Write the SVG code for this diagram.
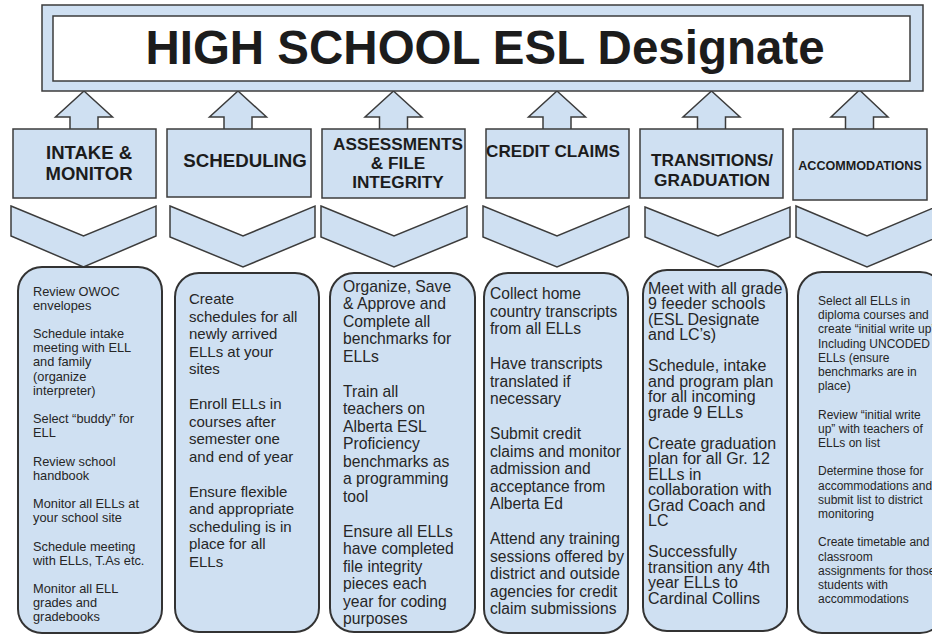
<svg xmlns="http://www.w3.org/2000/svg" width="932" height="634" viewBox="0 0 932 634">
<style>
.blue{fill:#cfe0f2;stroke:#3c3c3c;stroke-width:1.5;stroke-linejoin:miter}
.card{fill:#cfe0f2;stroke:#333;stroke-width:2}
.white{fill:#fff;stroke:#3c3c3c;stroke-width:1.5}
.head{font-family:"Liberation Sans",Arial,sans-serif;font-weight:bold;fill:#1c1c1c;text-anchor:middle}
.body{font-family:"Liberation Sans",Arial,sans-serif;fill:#262626}
</style>
<rect width="932" height="634" fill="#fff"/>
<g id="connectors">
  <polygon class="blue" points="84,91 112.5,117 98,117 98,130 70,130 70,117 55.5,117"/>
  <polygon class="blue" points="238,91 266.5,117 252,117 252,130 224,130 224,117 209.5,117"/>
  <polygon class="blue" points="393.5,91 422,117 407.5,117 407.5,130 379.5,130 379.5,117 365,117"/>
  <polygon class="blue" points="557,91 585.5,117 571,117 571,130 543,130 543,117 528.5,117"/>
  <polygon class="blue" points="711.5,91 740,117 725.5,117 725.5,130 697.5,130 697.5,117 683,117"/>
  <polygon class="blue" points="859.5,90 888,117 873.5,117 873.5,130 845.5,130 845.5,117 831,117"/>
  <polygon class="blue" points="11,206 83.5,236 156,206 156,236 83.5,267 11,236"/>
  <polygon class="blue" points="170,206 243,236 315,206 315,237 243,267 170,237"/>
  <polygon class="blue" points="321,206 394,236 467,206 467,237 394,267 321,237"/>
  <polygon class="blue" points="483,206 557,236 629,206 629,237 557,267 483,237"/>
  <polygon class="blue" points="645,207 718,236 790,207 790,237 718,267 645,237"/>
  <polygon class="blue" points="796,206 867,236 938,206 938,237 867,267 796,237"/>
</g>
<g id="title">
  <rect class="blue" x="42" y="5" width="881" height="86"/>
  <rect class="white" x="53" y="16" width="857" height="65"/>
  <text class="head" x="485" y="64" font-size="47.5" fill="#000">HIGH SCHOOL ESL Designate</text>
</g>
<g id="h-intake">
  <rect class="blue" x="13" y="129" width="143" height="69"/>
  <text class="head" font-size="18.5"><tspan x="89" y="159">INTAKE &amp;</tspan><tspan x="89" y="180">MONITOR</tspan></text>
</g>
<g id="h-scheduling">
  <rect class="blue" x="167" y="129" width="144" height="68"/>
  <text class="head" font-size="18.7" x="245" y="167">SCHEDULING</text>
</g>
<g id="h-assessments">
  <rect class="blue" x="322" y="129" width="143" height="69"/>
  <text class="head" font-size="17.2"><tspan x="398" y="150">ASSESSMENTS</tspan><tspan x="398" y="169">&amp; FILE</tspan><tspan x="398" y="188">INTEGRITY</tspan></text>
</g>
<g id="h-credit">
  <rect class="blue" x="486" y="129" width="143" height="69"/>
  <text class="head" font-size="17.1" x="553" y="157">CREDIT CLAIMS</text>
</g>
<g id="h-transitions">
  <rect class="blue" x="640" y="129" width="143" height="69"/>
  <text class="head" font-size="17.3"><tspan x="712" y="166">TRANSITIONS/</tspan><tspan x="712" y="185.5">GRADUATION</tspan></text>
</g>
<g id="h-accommodations">
  <rect class="blue" x="793" y="129" width="134" height="71"/>
  <text class="head" font-size="12.6" x="860" y="170">ACCOMMODATIONS</text>
</g>
<g id="c-intake">
  <rect class="card" x="18" y="267" width="144" height="366" rx="24"/>
  <text class="body" font-size="12.8">
    <tspan x="33" y="296">Review OWOC</tspan><tspan x="33" y="310">envelopes</tspan>
    <tspan x="33" y="338">Schedule intake</tspan><tspan x="33" y="352">meeting with ELL</tspan><tspan x="33" y="366">and family</tspan><tspan x="33" y="381">(organize</tspan><tspan x="33" y="395">interpreter)</tspan>
    <tspan x="33" y="423">Select “buddy” for</tspan><tspan x="33" y="437">ELL</tspan>
    <tspan x="33" y="466">Review school</tspan><tspan x="33" y="480">handbook</tspan>
    <tspan x="33" y="508">Monitor all ELLs at</tspan><tspan x="33" y="522">your school site</tspan>
    <tspan x="33" y="551">Schedule meeting</tspan><tspan x="33" y="565">with ELLs, T.As etc.</tspan>
    <tspan x="33" y="593">Monitor all ELL</tspan><tspan x="33" y="607">grades and</tspan><tspan x="33" y="621">gradebooks</tspan>
  </text>
</g>
<g id="c-scheduling">
  <rect class="card" x="175" y="273" width="144" height="359" rx="24"/>
  <text class="body" font-size="15">
    <tspan x="189" y="304">Create</tspan><tspan x="189" y="321.5">schedules for all</tspan><tspan x="189" y="339">newly arrived</tspan><tspan x="189" y="356.5">ELLs at your</tspan><tspan x="189" y="374">sites</tspan>
    <tspan x="189" y="409">Enroll ELLs in</tspan><tspan x="189" y="426.5">courses after</tspan><tspan x="189" y="444">semester one</tspan><tspan x="189" y="461.5">and end of year</tspan>
    <tspan x="189" y="496.5">Ensure flexible</tspan><tspan x="189" y="514">and appropriate</tspan><tspan x="189" y="531.5">scheduling is in</tspan><tspan x="189" y="549">place for all</tspan><tspan x="189" y="566.5">ELLs</tspan>
  </text>
</g>
<g id="c-assessments">
  <rect class="card" x="330" y="273" width="145" height="359" rx="24"/>
  <text class="body" font-size="15.7">
    <tspan x="343" y="291.5">Organize, Save</tspan><tspan x="343" y="308.5">&amp; Approve and</tspan><tspan x="343" y="326.5">Complete all</tspan><tspan x="343" y="343.5">benchmarks for</tspan><tspan x="343" y="361.5">ELLs</tspan>
    <tspan x="343" y="396.5">Train all</tspan><tspan x="343" y="413.5">teachers on</tspan><tspan x="343" y="431.5">Alberta ESL</tspan><tspan x="343" y="448.5">Proficiency</tspan><tspan x="343" y="466.5">benchmarks as</tspan><tspan x="343" y="483.5">a programming</tspan><tspan x="343" y="501.5">tool</tspan>
    <tspan x="343" y="536.5">Ensure all ELLs</tspan><tspan x="343" y="553.5">have completed</tspan><tspan x="343" y="571.5">file integrity</tspan><tspan x="343" y="588.5">pieces each</tspan><tspan x="343" y="606.5">year for coding</tspan><tspan x="343" y="623.5">purposes</tspan>
  </text>
</g>
<g id="c-credit">
  <rect class="card" x="484" y="273" width="144" height="360" rx="24"/>
  <text class="body" font-size="15.6">
    <tspan x="490" y="298.5">Collect home</tspan><tspan x="490" y="316.5">country transcripts</tspan><tspan x="490" y="333.5">from all ELLs</tspan>
    <tspan x="490" y="368.5">Have transcripts</tspan><tspan x="490" y="386.5">translated if</tspan><tspan x="490" y="403.5">necessary</tspan>
    <tspan x="490" y="438.5">Submit credit</tspan><tspan x="490" y="456.5">claims and monitor</tspan><tspan x="490" y="473.5">admission and</tspan><tspan x="490" y="491.5">acceptance from</tspan><tspan x="490" y="508.5">Alberta Ed</tspan>
    <tspan x="490" y="543.5">Attend any training</tspan><tspan x="490" y="561.5">sessions offered by</tspan><tspan x="490" y="578.5">district and outside</tspan><tspan x="490" y="596.5">agencies for credit</tspan><tspan x="490" y="613.5">claim submissions</tspan>
  </text>
</g>
<g id="c-transitions">
  <rect class="card" x="643" y="270" width="144" height="361" rx="24"/>
  <text class="body" font-size="16">
    <tspan x="648" y="293.5">Meet with all grade</tspan><tspan x="648" y="309">9 feeder schools</tspan><tspan x="648" y="324.5">(ESL Designate</tspan><tspan x="648" y="340">and LC’s)</tspan>
    <tspan x="648" y="371">Schedule, intake</tspan><tspan x="648" y="386.5">and program plan</tspan><tspan x="648" y="402">for all incoming</tspan><tspan x="648" y="417.5">grade 9 ELLs</tspan>
    <tspan x="648" y="448.5">Create graduation</tspan><tspan x="648" y="464">plan for all Gr. 12</tspan><tspan x="648" y="479.5">ELLs in</tspan><tspan x="648" y="495">collaboration with</tspan><tspan x="648" y="510.5">Grad Coach and</tspan><tspan x="648" y="526">LC</tspan>
    <tspan x="648" y="557">Successfully</tspan><tspan x="648" y="572.5">transition any 4th</tspan><tspan x="648" y="588">year ELLs to</tspan><tspan x="648" y="603.5">Cardinal Collins</tspan>
  </text>
</g>
<g id="c-accommodations">
  <rect class="card" x="798" y="272" width="146" height="361" rx="24"/>
  <text class="body" font-size="12">
    <tspan x="818" y="305">Select all ELLs in</tspan><tspan x="818" y="319.2">diploma courses and</tspan><tspan x="818" y="333.4">create “initial write up”</tspan><tspan x="818" y="347.6">Including UNCODED</tspan><tspan x="818" y="361.8">ELLs (ensure</tspan><tspan x="818" y="376">benchmarks are in</tspan><tspan x="818" y="390.2">place)</tspan>
    <tspan x="818" y="418.6">Review “initial write</tspan><tspan x="818" y="432.8">up” with teachers of</tspan><tspan x="818" y="447">ELLs on list</tspan>
    <tspan x="818" y="475.4">Determine those for</tspan><tspan x="818" y="489.6">accommodations and</tspan><tspan x="818" y="503.8">submit list to district</tspan><tspan x="818" y="518">monitoring</tspan>
    <tspan x="818" y="546.4">Create timetable and</tspan><tspan x="818" y="560.6">classroom</tspan><tspan x="818" y="574.8">assignments for those</tspan><tspan x="818" y="589">students with</tspan><tspan x="818" y="603.2">accommodations</tspan>
  </text>
</g>
</svg>
